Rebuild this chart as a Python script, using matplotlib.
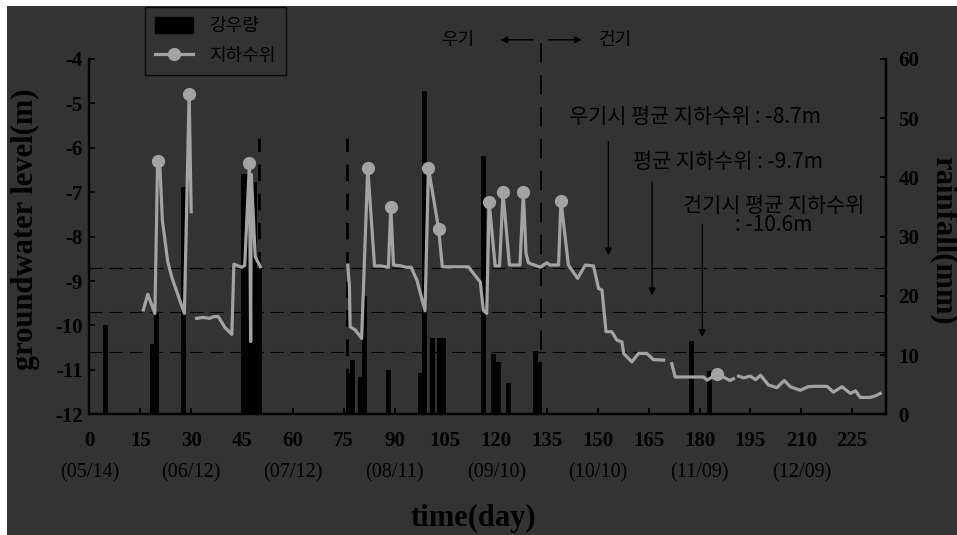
import numpy as np
import matplotlib
matplotlib.use('Agg')
import matplotlib.pyplot as plt
from matplotlib.patches import Rectangle, Patch
from matplotlib.lines import Line2D

plt.rcParams['axes.unicode_minus'] = False
plt.rcParams['lines.scale_dashes'] = False

kr = ['Noto Sans CJK KR', 'DejaVu Sans']
serif = 'Liberation Serif'
bg = '#333333'
gray = '#a3a3a3'

# daily rainfall (mm)
rain_day = [4.6, 18.5, 19.7, 27.7, 45.4, 46.6, 47.6, 48.7, 50.1, 76.3, 77.5, 79.9, 81.2,
            88.1, 97.8, 98.9, 101.3, 103.3, 104.5, 116.3, 119.3, 120.6, 123.5, 131.5,
            132.9, 177.6, 182.8]
rain_mm = [15.0, 11.8, 17.2, 38.3, 40.6, 40.6, 12.3, 39.2, 24.6, 7.0, 9.2, 6.3, 19.9,
           7.4, 6.9, 54.6, 12.8, 12.8, 12.8, 43.6, 10.2, 8.9, 5.3, 10.7,
           8.9, 12.3, 7.3]

# groundwater level (m), nan = no record
gw_day = [15.9, 17.2, 19.3, 20.1, 20.8, 21.5, 23.1, 24.4, 28.0, 29.4, 30.0, np.nan,
          31.6, 33.5, 35.5, 36.7, 38.0, 40.0, 42.0, 42.6, 44.9, 45.8, 47.2, 47.55, 47.75,
          48.9, 50.4, np.nan,
          76.2, 76.7, 76.9, 78.4, 80.3, 82.1, 84.1, 86.0, 88.2, 88.9, 89.7, 92.0, 93.5,
          94.9, 96.6, 99.0, 100.0, 103.0, 104.1, 108.0, 111.8, 113.5, 115.3, 116.2,
          117.2, 117.9, 119.7, 121.0, 122.0, 123.9, 127.0, 128.0, 128.8, 129.5, 133.0,
          134.9, 135.9, 138.4, 139.1, 141.3, 144.0, 146.3, 148.7, 150.2, 151.2, 152.4,
          154.1, 155.6, 157.1, 157.6, 160.0, 162.0, 164.4, 166.4, 169.4, np.nan,
          171.8, 172.8, 181.2, 182.2, 185.1, 187.0, 189.0, 190.0, np.nan,
          191.5, 193.0, 195.0, 196.5, 198.0, 200.3, 202.8, 205.0, 206.8, 209.7, 212.0,
          214.0, 217.6, 219.5, 222.0, 224.5, 226.0, 227.4, 230.4, 232.0, 233.3]
gw_level = [-9.65, -9.30, -9.73, -6.29, -6.46, -7.63, -8.57, -8.94, -9.73, -4.78, -7.44, np.nan,
            -9.84, -9.82, -9.84, -9.80, -9.80, -10.05, -10.20, -8.62, -8.69, -8.65, -6.34, -10.36, -6.60,
            -8.45, -8.68, np.nan,
            -8.64, -9.13, -10.03, -10.10, -10.29, -6.45, -8.66, -8.66, -8.69, -7.33, -8.64, -8.66, -8.69,
            -8.69, -8.98, -9.67, -6.45, -7.82, -8.68, -8.68, -8.68, -8.85, -9.02, -9.66,
            -9.73, -7.22, -8.66, -8.66, -7.00, -8.64, -8.64, -7.00, -8.38, -8.59, -8.69,
            -8.59, -8.64, -8.64, -7.19, -8.64, -8.94, -8.64, -8.66, -9.17, -9.20, -10.14,
            -10.14, -10.33, -10.37, -10.63, -10.82, -10.63, -10.63, -10.77, -10.78, np.nan,
            -10.86, -11.16, -11.16, -11.23, -11.10, -11.16, -11.24, -11.20, np.nan,
            -11.14, -11.18, -11.14, -11.22, -11.12, -11.34, -11.40, -11.24, -11.38, -11.46, -11.38,
            -11.37, -11.37, -11.50, -11.38, -11.53, -11.47, -11.62, -11.62, -11.58, -11.53]
peak_day = [20.1, 29.4, 47.2, 82.1, 88.9, 100.0, 103.0, 117.9, 122.0, 128.0, 139.1, 185.1]

mean_wet = -8.7
mean_all = -9.7
mean_dry = -10.6

x_ticks = list(range(0, 226, 15))
date_ticks = [0, 30, 60, 90, 120, 150, 180, 210]
date_labels = ['(05/14)', '(06/12)', '(07/12)', '(08/11)', '(09/10)', '(10/10)', '(11/09)', '(12/09)']

fig = plt.figure(figsize=(9.57, 5.35), dpi=100, facecolor='white')
fig.patches.append(Rectangle((7 / 957, 0), 1, 1 - 6 / 535, transform=fig.transFigure,
                             facecolor=bg, edgecolor='none', zorder=-10))

ax = fig.add_axes([0.0935, 0.2256, 0.8323, 0.6643])
ax2 = ax.twinx()
ax.set_zorder(ax2.get_zorder() + 1)
ax.patch.set_visible(False)
ax2.patch.set_visible(False)

ax2.bar(rain_day, rain_mm, width=1.5, color='black', zorder=2)
ax2.set_ylim(0, 60)
ax2.set_yticks(range(0, 61, 10))

marks = [gw_day.index(d) for d in peak_day]
ax.plot(gw_day, gw_level, color=gray, lw=2.3, marker='o', ms=8.5, markevery=marks, zorder=5)

ax.set_xlim(0, 235)
ax.set_ylim(-12, -4)
ax.set_xticks(x_ticks)
ax.set_yticks(range(-12, -3))

for m in [mean_wet, mean_all, mean_dry]:
    ax.axhline(m, color='black', lw=0.8, ls=(0, (9.5, 5)), zorder=1)

ax.plot([50, 50], [-12, -5.79], color='black', lw=2, ls=(0, (12, 9)), zorder=1)
ax.plot([75.9, 75.9], [-12, -5.79], color='black', lw=2, ls=(0, (12, 9)), zorder=1)
ax.plot([133.2, 133.2], [-12, -3.46], color='black', lw=1.2, ls=(0, (14, 9)), zorder=1,
        clip_on=False)

for a in (ax, ax2):
    a.spines['top'].set_visible(False)
    for s in ('left', 'right', 'bottom'):
        a.spines[s].set_linewidth(1.6)
        a.spines[s].set_color('black')

ax.tick_params(axis='x', direction='in', length=4.5, width=1.3, pad=12, colors='black')
ax.tick_params(axis='y', direction='in', length=4.5, width=1.3, pad=5, colors='black')
ax2.tick_params(axis='y', direction='in', length=4.5, width=1.3, pad=9, colors='black')
for lab in ax.get_xticklabels() + ax.get_yticklabels() + ax2.get_yticklabels():
    lab.set_fontfamily(serif)
    lab.set_fontweight('bold')
    lab.set_fontsize(15)

xt = ax.get_xaxis_transform()
for d, lab in zip(date_ticks, date_labels):
    ax.text(d, -0.165, lab, transform=xt, ha='center', va='center',
            fontsize=14.5, family=serif, color='black')

fig.text(473 / 957, 0.03, 'time(day)', ha='center', va='center', fontsize=22,
         family=serif, weight='bold', color='black')
fig.text(25 / 957, 0.572, 'groundwater level(m)', ha='center', va='center', rotation=90,
         fontsize=22, family=serif, weight='bold', color='black')
fig.text(943 / 957, 0.55, 'rainfall(mm)', ha='center', va='center', rotation=270,
         fontsize=22, family=serif, weight='bold', color='black')

# rainy / dry season marker above the plot
ax.text(108.8, -3.57, '우기', ha='center', va='center', fontsize=13, family=kr,
        color='black', clip_on=False)
ax.text(155.1, -3.57, '건기', ha='center', va='center', fontsize=13, family=kr,
        color='black', clip_on=False)
arr = dict(arrowstyle='-|>', color='black', lw=1, mutation_scale=10, shrinkA=0, shrinkB=0)
ax.annotate('', xy=(121.2, -3.57), xytext=(130.9, -3.57), arrowprops=arr, annotation_clip=False)
ax.annotate('', xy=(145.2, -3.57), xytext=(135.4, -3.57), arrowprops=arr, annotation_clip=False)

# mean level notes
ax.text(178.6, -5.31, '우기시 평균 지하수위 : -8.7m', ha='center', va='center',
        fontsize=15, family=kr, color='black')
ax.text(188.5, -6.32, '평균 지하수위 : -9.7m', ha='center', va='center',
        fontsize=15, family=kr, color='black')
ax.text(201.8, -7.52, '건기시 평균 지하수위\n: -10.6m', ha='center', va='center',
        multialignment='center', linespacing=0.85, fontsize=15, family=kr, color='black')
ax.annotate('', xy=(153.1, -8.42), xytext=(153.1, -5.86), arrowprops=arr)
ax.annotate('', xy=(166.0, -9.32), xytext=(166.0, -6.77), arrowprops=arr)
ax.annotate('', xy=(180.8, -10.26), xytext=(180.8, -7.72), arrowprops=arr)

handles = [Patch(facecolor='black', edgecolor='black'),
           Line2D([], [], color=gray, lw=2.3, marker='o', ms=8.5)]
leg = fig.legend(handles, ['강우량', '지하수위'], loc='upper left',
                 bbox_to_anchor=(145 / 957, 1 - 7 / 535), frameon=True, fancybox=False,
                 prop={'family': kr, 'size': 13}, handlelength=2.1, handleheight=1.0,
                 handletextpad=0.9, borderpad=0.55, labelspacing=0.65, borderaxespad=0)
leg.get_frame().set_facecolor(bg)
leg.get_frame().set_edgecolor('black')
leg.get_frame().set_linewidth(1)
for t in leg.get_texts():
    t.set_color('black')

fig.savefig('out.png', dpi=100, facecolor='white')
